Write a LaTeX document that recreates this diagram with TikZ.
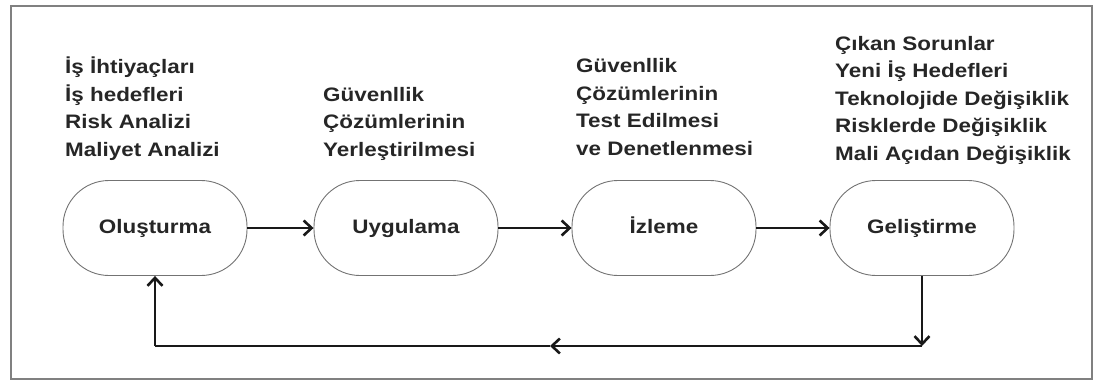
\documentclass[tikz,border=0pt]{standalone}
\usepackage{fontspec}
\setmainfont{Liberation Sans}[FakeStretch=1.15]
\usetikzlibrary{arrows.meta}
\begin{document}
\begin{tikzpicture}[x=1pt,y=-1pt,
  phase/.style={draw=black!55, line width=0.9pt, rounded corners=46pt,
    minimum width=184pt, minimum height=95pt, inner sep=0pt,
    text height=14pt, text depth=4pt,
    font=\fontsize{19.5}{27.5}\selectfont\bfseries, text=black!85},
  notes/.style={anchor=base west, align=left, inner sep=0pt,
    font=\fontsize{19.5}{27.5}\selectfont\bfseries, text=black!85},
  flow/.style={line width=2.9pt, black!90,
    -{Straight Barb[length=8pt,width=15pt,line width=2.6pt]}},
  plain/.style={line width=2.9pt, black!90}]
\useasboundingbox (0,0) rectangle (1098,383);
\draw[black!50, line width=1.6pt] (11,6) rectangle (1092,379);

\node[phase] (olu) at (155,228) {Oluşturma};
\node[phase] (uyg) at (406,228) {Uygulama};
\node[phase] (izl) at (664,228) {İzleme};
\node[phase] (gel) at (922,228) {Geliştirme};

\node[notes] (n1) at (65,156) {İş İhtiyaçları\\İş hedefleri\\Risk Analizi\\Maliyet Analizi};
\node[notes] (n2) at (323,156) {Güvenllik\\Çözümlerinin\\Yerleştirilmesi};
\node[notes] (n3) at (576,155) {Güvenllik\\Çözümlerinin\\Test Edilmesi\\ve Denetlenmesi};
\node[notes] (n4) at (835,160) {Çıkan Sorunlar\\Yeni İş Hedefleri\\Teknolojide Değişiklik\\Risklerde Değişiklik\\Mali Açıdan Değişiklik};

\draw[flow] (olu.east) -- (uyg.west);
\draw[flow] (uyg.east) -- (izl.west);
\draw[flow] (izl.east) -- (gel.west);

\coordinate (c1) at (gel.south |- 0,346);
\coordinate (mid) at (550,346);
\coordinate (c2) at (olu.south |- 0,346);
\draw[flow] (gel.south) -- (c1);
\draw[flow] (c1) -- (mid);
\draw[plain] (mid) -- (c2);
\draw[flow] (c2) -- (olu.south);
\end{tikzpicture}
\end{document}
